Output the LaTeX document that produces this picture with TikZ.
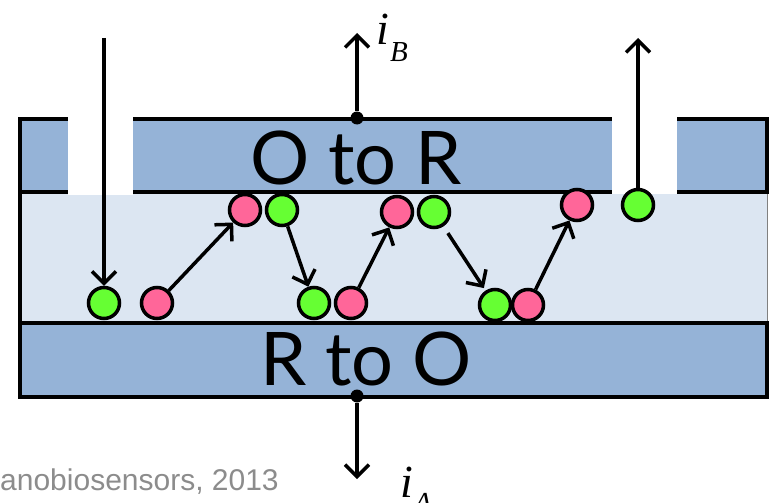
\documentclass[tikz,border=0pt]{standalone}
\usepackage{fontspec}
\setmainfont{Liberation Serif}
\newfontfamily\labelfont{Lato}
\newfontfamily\footfont{Liberation Sans}
\usetikzlibrary{arrows.meta}
\definecolor{elec}{HTML}{95B3D7}
\definecolor{gap}{HTML}{DCE6F2}
\definecolor{redc}{HTML}{FF6699}
\definecolor{oxc}{HTML}{66FF33}
\definecolor{foot}{HTML}{8C8C8C}
\tikzset{
  mol/.style={circle,draw=black,line width=3.5pt,minimum size=31pt,inner sep=0pt},
  red/.style={mol,fill=redc},
  ox/.style={mol,fill=oxc},
  flow/.style={line width=3.5pt,-{Straight Barb[length=12pt,width=24pt,line width=3.5pt]}},
  border/.style={line width=4pt},
  term/.style={circle,fill=black,inner sep=0pt,minimum size=13pt},
  curlab/.style={inner sep=0pt,anchor=base west,font=\itshape\fontsize{46}{46}\selectfont},
  sublab/.style={inner sep=0pt,anchor=base west,font=\itshape\fontsize{29}{29}\selectfont},
}
\begin{document}
\begin{tikzpicture}[x=1pt,y=-1pt]
\useasboundingbox (0,0) rectangle (771,503);
% middle band
\fill[gap] (20,192) rectangle (767,323);
\draw[gray,line width=1pt] (767,192) -- (767,323);
% electrodes
\draw[border,fill=elec] (20,119) rectangle (767,192);
\draw[border,fill=elec] (20,323) rectangle (767,397);
\draw[border] (20,119) -- (20,397);
% gaps in top electrode
\fill[white] (68,114) rectangle (133,195);
\fill[white] (612,114) rectangle (677,194);
% labels in electrodes
\node[font=\labelfont\fontsize{74}{74}\selectfont,inner sep=0pt] (otr) at (356,158) {O to R};
\node[font=\labelfont\fontsize{74}{74}\selectfont,inner sep=0pt] (rto) at (366,359) {R to O};
% terminals
\node[term] (tb) at (357,118) {};
\node[term] (ta) at (357,396) {};
\coordinate (tbEnd) at (357,33);
\coordinate (taEnd) at (357,479);
\draw[flow] (tb) -- (tbEnd);
\draw[flow] (ta) -- (taEnd);
\node[curlab] (ib) at (376,45) {i};
\node[sublab] (ibs) at (390,62) {B};
\node[curlab] (ia) at (400,497) {i};
\node[sublab] (ias) at (414,512) {A};
% molecules
\node[ox]  (g1) at (104,303) {};
\node[red] (r1) at (157,303) {};
\node[red] (r2) at (245,210) {};
\node[ox]  (g2) at (282,210) {};
\node[ox]  (g3) at (314,303) {};
\node[red] (r3) at (351,303) {};
\node[red] (r4) at (397,212) {};
\node[ox]  (g4) at (434,212) {};
\node[ox]  (g5) at (495,305) {};
\node[red] (r5) at (528,305) {};
\node[red] (r6) at (577,205) {};
\node[ox]  (g6) at (638,205) {};
\coordinate (inTop) at (104,38);
\coordinate (outTop) at (638,38);
% connectors
\draw[flow] (inTop) -- (g1);
\draw[flow] (r1) -- (r2);
\draw[flow] (g2) -- (g3);
\draw[flow] (r3) -- (r4);
\draw[flow,shorten <=8pt,shorten >=3pt] (g4) -- (g5);
\draw[flow] (r5) -- (r6);
\draw[flow] (g6) -- (outTop);
% footer
\node[anchor=base west,inner sep=0pt,text=foot,font=\footfont\fontsize{30}{30}\selectfont] (ft) at (0,490) {anobiosensors, 2013};
\end{tikzpicture}
\end{document}
